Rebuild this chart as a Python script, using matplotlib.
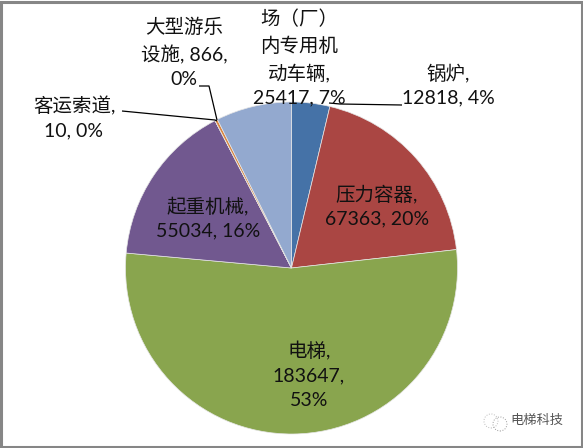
import matplotlib
matplotlib.use("Agg")
import matplotlib.pyplot as plt
from matplotlib.patches import Rectangle

plt.rcParams['font.family'] = ['Lato', 'Noto Sans CJK SC', 'DejaVu Sans']

categories = ['锅炉', '压力容器', '电梯', '起重机械', '客运索道', '大型游乐设施', '场（厂）内专用机动车辆']
values = [12818, 67363, 183647, 55034, 10, 866, 25417]
colors = ['#4572A7', '#AA4643', '#89A54E', '#71588F', '#4198AF', '#DB843D', '#93A9CF']
labels = ['锅炉,\n12818, 4%', '压力容器,\n67363, 20%', '电梯,\n183647,\n53%', '起重机械,\n55034, 16%',
          '客运索道,\n10, 0%', '大型游乐\n设施, 866,\n0%', '场（厂）\n内专用机\n动车辆,\n25417, 7%']

W, H = 583, 448
fig = plt.figure(figsize=(W / 100, H / 100), dpi=100)
ax = fig.add_axes([0, 0, 1, 1])
ax.pie(values, colors=colors, startangle=90, counterclock=False,
       center=(291.5, H - 268), radius=166,
       wedgeprops=dict(edgecolor='#E6E6E6', linewidth=0.5))
ax.set_xlim(0, W)
ax.set_ylim(0, H)
ax.set_aspect('auto')
ax.axis('off')

# label centres in pixels (x, y from the top)
label_pos = [(448, 85), (377, 206), (309, 375), (208, 218), (74, 118), (184, 53), (299, 58)]
for t, (x, y) in zip(labels, label_pos):
    ax.text(x, H - y, t, ha='center', va='center', fontsize=14, color='#111111',
            linespacing=1.53)

# leader lines
for xs, ys in [([122, 215, 217], [111, 120, 121]),
               ([199, 209, 217], [86, 86, 120]),
               ([402, 340, 329], [105, 104, 103])]:
    ax.plot(xs, [H - v for v in ys], color='black', lw=0.9, solid_capstyle='butt')

# watermark
ax.text(537, H - 420, '电梯科技', ha='center', va='center', fontsize=9.5, color='#555555')
ax.add_patch(plt.Circle((491, H - 421), 7, fill=False, ec='#BBBBBB', lw=0.7, ls=':'))
ax.add_patch(plt.Circle((500, H - 424), 7, fill=False, ec='#999999', lw=0.7, ls=':'))

# outer frame
ax.add_patch(Rectangle((1, 1), W - 2.5, H - 3, fill=False, ec='#868686', lw=2.2))

fig.savefig('out.png', dpi=100)
